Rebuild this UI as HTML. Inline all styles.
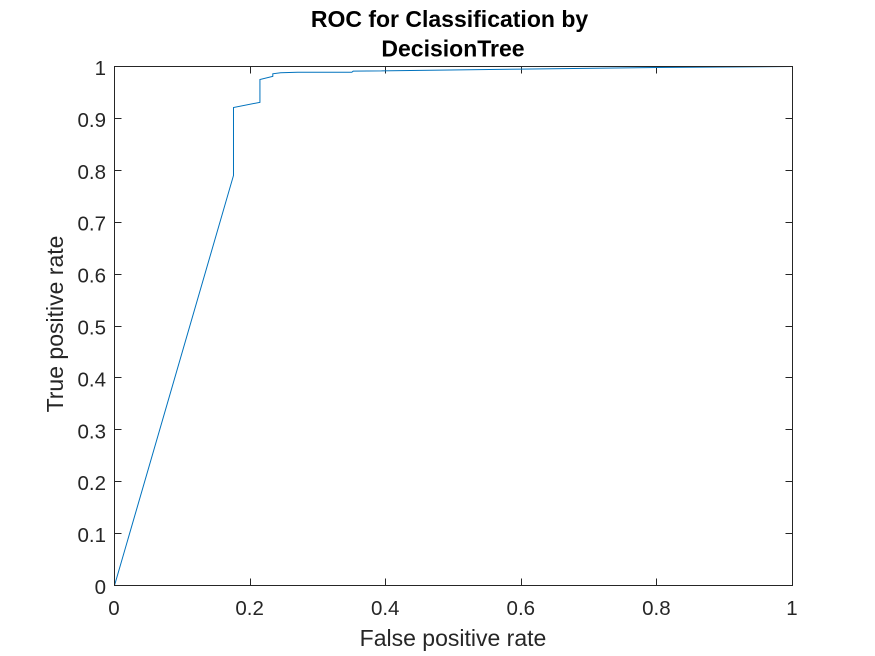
<!DOCTYPE html>
<html>
<head>
<meta charset="utf-8">
<style>
html,body{margin:0;padding:0;background:#fff;width:875px;height:656px;overflow:hidden}
svg{display:block;font-family:"Liberation Sans",Arial,sans-serif}
</style>
</head>
<body>
<svg id="chart" width="875" height="656" viewBox="0 0 875 656" xmlns="http://www.w3.org/2000/svg">
<rect width="875" height="656" fill="#fff"/>
<text x="449.5" y="27" font-size="23" font-weight="bold" text-anchor="middle" fill="#000">ROC for Classification by</text>
<text x="453" y="56.5" font-size="23" font-weight="bold" text-anchor="middle" fill="#000">DecisionTree</text>
<g id="ticks"></g>
<polyline id="roc" fill="none" stroke="#0072bd" stroke-width="1"/>
<rect x="114.5" y="66.5" width="678" height="519" fill="none" stroke="#262626" stroke-width="1"/>
<text x="453" y="646" font-size="23" text-anchor="middle" fill="#262626">False positive rate</text>
<text transform="translate(63 324) rotate(-90)" font-size="23" text-anchor="middle" fill="#262626">True positive rate</text>
</svg>
<script>
const fprValues = [0, 0.1755, 0.1755, 0.2145, 0.2145, 0.2335, 0.2335, 0.245, 0.27, 0.35, 0.352, 0.6, 0.8, 1];
const tprValues = [0, 0.79, 0.921, 0.931, 0.975, 0.981, 0.986, 0.988, 0.989, 0.989, 0.991, 0.995, 0.998, 1];
const xTickLabels = ["0", "0.2", "0.4", "0.6", "0.8", "1"];
const yTickLabels = ["0", "0.1", "0.2", "0.3", "0.4", "0.5", "0.6", "0.7", "0.8", "0.9", "1"];

const NS = 'http://www.w3.org/2000/svg';
const xScale = v => 114.5 + v * 678;
const yScale = v => 585.5 - v * 519;
const tickGroup = document.getElementById('ticks');

function addTick(x1, y1, x2, y2) {
  const t = document.createElementNS(NS, 'line');
  t.setAttribute('x1', x1);
  t.setAttribute('y1', y1);
  t.setAttribute('x2', x2);
  t.setAttribute('y2', y2);
  t.setAttribute('stroke', '#262626');
  t.setAttribute('stroke-width', '1');
  
  
  tickGroup.appendChild(t);
}

function addLabel(x, y, anchor, str) {
  const l = document.createElementNS(NS, 'text');
  l.setAttribute('x', x);
  l.setAttribute('y', y);
  l.setAttribute('text-anchor', anchor);
  l.setAttribute('font-size', '20.5');
  l.setAttribute('fill', '#262626');
  
  
  l.textContent = str;
  tickGroup.appendChild(l);
}

xTickLabels.forEach(s => {
  const x = Math.floor(xScale(parseFloat(s))) + 0.5;
  addTick(x, 585.5, x, 578.5);
  addTick(x, 66.5, x, 73.5);
  addLabel(xScale(parseFloat(s)) - 0.5, 615, 'middle', s);
});
yTickLabels.forEach(s => {
  const y = Math.floor(yScale(parseFloat(s))) + 0.5;
  addTick(114.5, y, 121.5, y);
  addTick(792.5, y, 785.5, y);
  addLabel(106, yScale(parseFloat(s)) + 8.5, 'end', s);
});

document.getElementById('roc').setAttribute('points',
  fprValues.map((v, i) => xScale(v).toFixed(2) + ',' + yScale(tprValues[i]).toFixed(2)).join(' '));
</script>
</body>
</html>
